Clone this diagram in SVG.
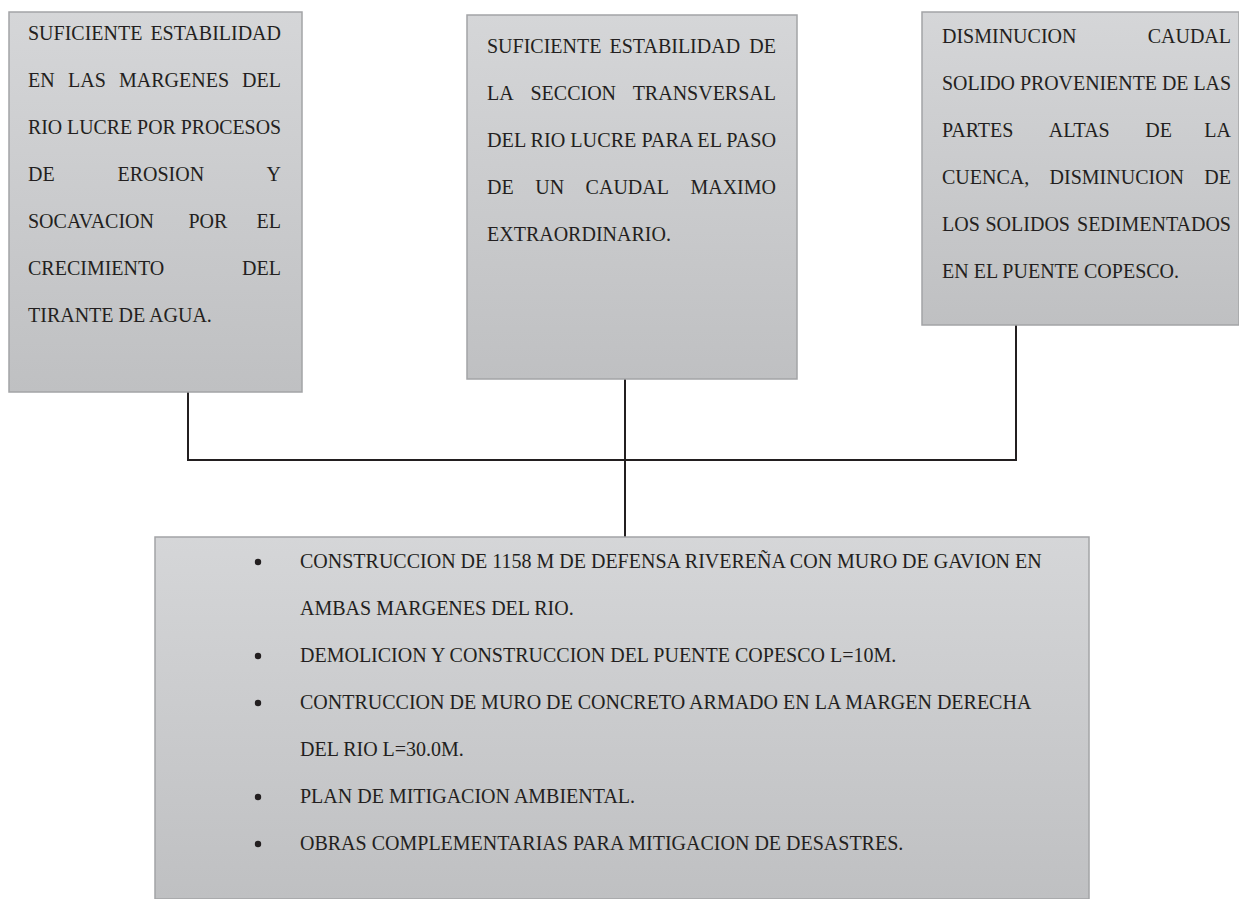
<svg xmlns="http://www.w3.org/2000/svg" width="1239" height="899" viewBox="0 0 1239 899">
<defs>
<linearGradient id="g" x1="0" y1="0" x2="0" y2="1">
<stop offset="0" stop-color="#d5d6d8"/>
<stop offset="1" stop-color="#bfc0c2"/>
</linearGradient>
<style>
.box{fill:url(#g);stroke:#a3a4a6;stroke-width:1.5}
text{font-family:"Liberation Serif","Times New Roman",serif;font-size:20px;fill:#231f20}
.e{text-anchor:end}
.c{fill:none;stroke:#231f20;stroke-width:2}
.b{fill:#231f20}
</style>
</defs>
<rect width="1239" height="899" fill="#ffffff"/>
<g id="connectors">
<polyline class="c" points="188,392 188,460 1016,460 1016,325"/>
<line class="c" x1="625" y1="379" x2="625" y2="537"/>
</g>
<g id="node1">
<rect class="box" x="9" y="12" width="293" height="380"/>
<text x="28" y="40">SUFICIENTE</text><text class="e" x="281" y="40">ESTABILIDAD</text>
<text x="28" y="87">EN</text><text x="68" y="87">LAS</text><text x="119" y="87">MARGENES</text><text class="e" x="281" y="87">DEL</text>
<text x="28" y="134" textLength="253" lengthAdjust="spacingAndGlyphs">RIO LUCRE POR PROCESOS</text>
<text x="28" y="181">DE</text><text x="117.5" y="181">EROSION</text><text class="e" x="281" y="181">Y</text>
<text x="28" y="228">SOCAVACION</text><text x="188.5" y="228">POR</text><text class="e" x="281" y="228">EL</text>
<text x="28" y="275">CRECIMIENTO</text><text class="e" x="281" y="275">DEL</text>
<text x="28" y="322">TIRANTE DE AGUA.</text>
</g>
<g id="node2">
<rect class="box" x="467" y="15" width="330" height="364"/>
<text x="487" y="53">SUFICIENTE</text><text x="609.5" y="53">ESTABILIDAD</text><text class="e" x="776" y="53">DE</text>
<text x="487" y="100">LA</text><text x="530.5" y="100">SECCION</text><text class="e" x="776" y="100">TRANSVERSAL</text>
<text x="487" y="147" textLength="289" lengthAdjust="spacingAndGlyphs">DEL RIO LUCRE PARA EL PASO</text>
<text x="487" y="194">DE</text><text x="535.2" y="194">UN</text><text x="585.6" y="194">CAUDAL</text><text class="e" x="776" y="194">MAXIMO</text>
<text x="487" y="241">EXTRAORDINARIO.</text>
</g>
<g id="node3">
<rect class="box" x="922" y="12" width="317" height="313"/>
<text x="942" y="43">DISMINUCION</text><text class="e" x="1231" y="43">CAUDAL</text>
<text x="942" y="90" textLength="289" lengthAdjust="spacingAndGlyphs">SOLIDO PROVENIENTE DE LAS</text>
<text x="942" y="137">PARTES</text><text x="1048.7" y="137">ALTAS</text><text x="1145.3" y="137">DE</text><text class="e" x="1231" y="137">LA</text>
<text x="942" y="184">CUENCA,</text><text x="1049.6" y="184">DISMINUCION</text><text class="e" x="1231" y="184">DE</text>
<text x="942" y="231">LOS</text><text x="985.5" y="231">SOLIDOS</text><text class="e" x="1231" y="231">SEDIMENTADOS</text>
<text x="942" y="278">EN EL PUENTE COPESCO.</text>
</g>
<g id="node4">
<rect class="box" x="155" y="537" width="934" height="362"/>
<circle class="b" cx="258" cy="562" r="3.2"/>
<text x="300" y="568">CONSTRUCCION DE 1158 M DE DEFENSA RIVEREÑA CON MURO DE GAVION EN</text>
<text x="300" y="615">AMBAS MARGENES DEL RIO.</text>
<circle class="b" cx="258" cy="656" r="3.2"/>
<text x="300" y="662">DEMOLICION Y CONSTRUCCION DEL PUENTE COPESCO L=10M.</text>
<circle class="b" cx="258" cy="703" r="3.2"/>
<text x="300" y="709">CONTRUCCION DE MURO DE CONCRETO ARMADO EN LA MARGEN DERECHA</text>
<text x="300" y="756">DEL RIO L=30.0M.</text>
<circle class="b" cx="258" cy="797" r="3.2"/>
<text x="300" y="803">PLAN DE MITIGACION AMBIENTAL.</text>
<circle class="b" cx="258" cy="844" r="3.2"/>
<text x="300" y="850">OBRAS COMPLEMENTARIAS PARA MITIGACION DE DESASTRES.</text>
</g>
</svg>
